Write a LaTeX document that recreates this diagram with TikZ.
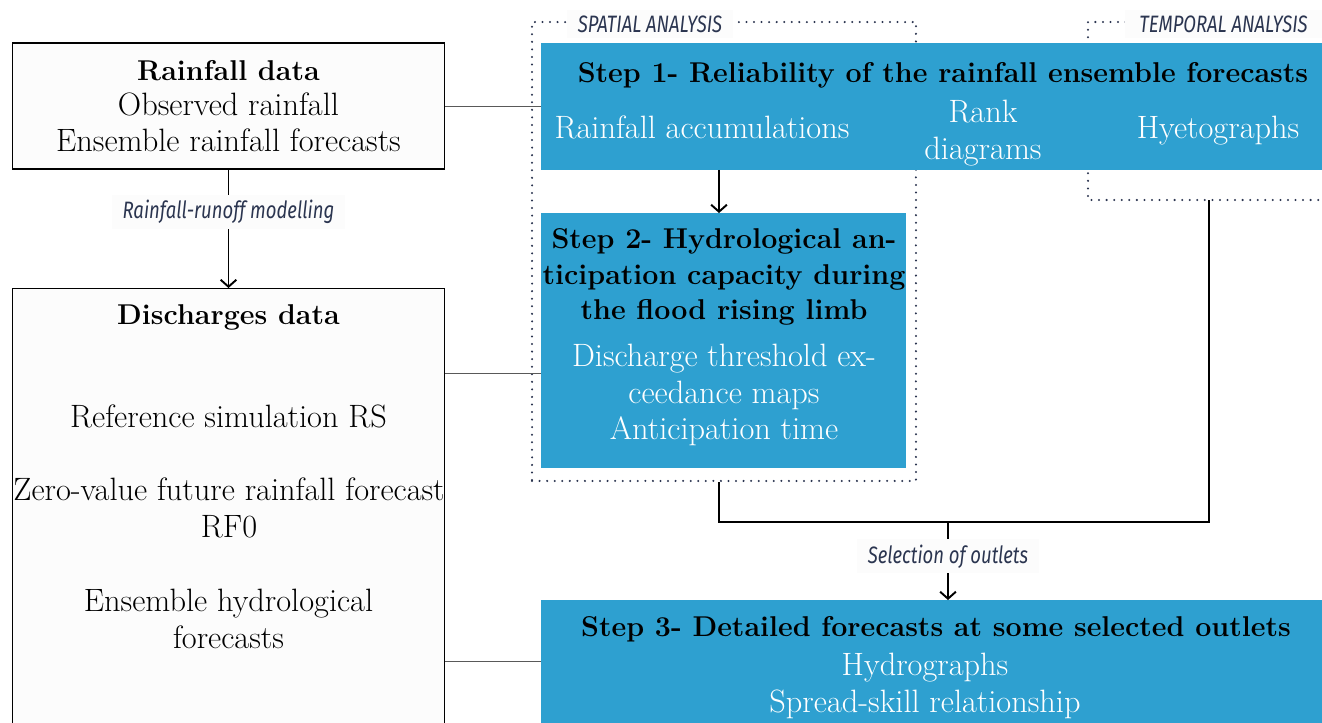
\documentclass[tikz,border=0pt]{standalone}
\usepackage{fontspec}
\usepackage{tikz}
\usetikzlibrary{arrows.meta}
\newfontfamily\labfont[FakeStretch=0.78]{Fira Sans}
\definecolor{stepblue}{RGB}{46,160,208}
\definecolor{navy}{RGB}{43,53,80}

\begin{document}
\begin{tikzpicture}[x=0.02cm,y=-0.02cm,
  txt/.style={font=\fontsize{18.4}{20.6}\selectfont,align=center,inner sep=0},
  ttl/.style={font=\fontsize{16.3}{20.4}\selectfont\bfseries,align=center,inner sep=0},
  databox/.style={fill=gray!2,draw=black,line width=0.6pt,inner sep=0,outer sep=0},
  stepbox/.style={fill=stepblue,inner sep=0,outer sep=0},
  dots/.style={navy,line width=1.3pt,line cap=round,dash pattern=on 0pt off 4.3pt},
  lab/.style={fill=gray!2,text=navy,font=\labfont\itshape\fontsize{13.5}{15}\selectfont,inner xsep=6pt,inner ysep=3pt},
  arr/.style={-{Straight Barb[length=4pt,width=9pt]},line width=1.1pt},
  thinline/.style={gray!70!black,line width=0.5pt}]
\useasboundingbox (0,0) rectangle (1322,723);

% data boxes
\node[databox,minimum width=8.66cm,minimum height=2.52cm] (rain) at (228.5,106) {};
\node[ttl] at (228.5,71) {Rainfall data};
\node[txt] at (228.5,122) {Observed rainfall\\Ensemble rainfall forecasts};
\node[fill=gray!2,inner sep=0,outer sep=0,minimum width=8.66cm,minimum height=8.7cm] (dis) at (228.5,505.5) {};
\draw[line width=0.6pt] (dis.south west) -- (dis.north west) -- (dis.north east) -- (dis.south east);
\node[ttl] at (228.5,317) {Discharges data};
\node[txt] at (228.5,416) {Reference simulation RS};
\node[txt] at (229,508) {Zero-value future rainfall forecast\\RF0};
\node[txt] at (228.5,619) {Ensemble hydrological\\forecasts};

% analysis frames
\node[dots,draw,minimum width=7.68cm,minimum height=9.18cm,inner sep=0] (spat) at (724,251.5) {};
\draw[dots] (1322,22) -- (1088,22) -- (1088,200) -- (1322,200);
\coordinate (tb) at (1209,200);
\node[lab] at (650,24) {SPATIAL ANALYSIS};
\node[lab,anchor=east,inner xsep=8pt] at (1322,24) {TEMPORAL ANALYSIS};

% steps
\node[stepbox,minimum width=15.62cm,minimum height=2.54cm] (s1) at (931.5,106.5) {};
\node[ttl] at (943,75) {Step 1- Reliability of the rainfall ensemble forecasts};
\node[txt,white] at (702,127) {Rainfall accumulations};
\node[txt,white] at (983,133) {Rank\\diagrams};
\node[txt,white] at (1218,131) {Hyetographs};

\node[stepbox,minimum width=7.3cm,minimum height=5.1cm] (s2) at (723.5,340.5) {};
\node[ttl] at (724,277) {Step 2- Hydrological an-\\ticipation capacity during\\the flood rising limb};
\node[txt,white] at (724,395) {Discharge threshold ex-\\ceedance maps\\Anticipation time};

\node[stepbox,minimum width=15.62cm,minimum height=2.46cm] (s3) at (931.5,661.5) {};
\node[ttl] at (936,629) {Step 3- Detailed forecasts at some selected outlets};
\node[txt,white] at (925,686) {Hydrographs\\Spread-skill relationship};

% connectors
\draw[arr] (rain.south) -- node[lab,pos=0.36] {Rainfall-runoff modelling} (dis.north);
\draw[thinline] (rain.east) -- (s1.west |- rain.east);
\draw[thinline] (dis.east |- 0,373) -- (s2.west |- 0,373);
\draw[thinline] (dis.east |- s3.west) -- (s3.west);

\coordinate (j1) at (719,522);
\coordinate (j2) at (1209,522);
\coordinate (j3) at (948,522);
\draw[arr] (s1.south -| j1) -- (s2.north -| j1);
\draw[line width=1.1pt] (spat.south -| j1) -- (j1) -- (j2) -- (tb);
\draw[arr] (j3) -- node[lab,pos=0.44] {Selection of outlets} (s3.north -| j3);
\end{tikzpicture}
\end{document}
